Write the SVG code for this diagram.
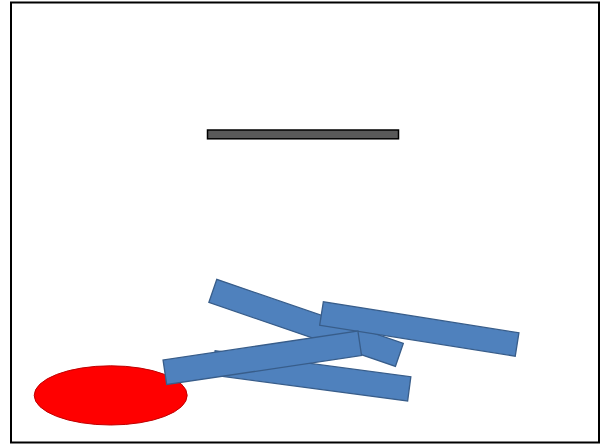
<svg xmlns="http://www.w3.org/2000/svg" width="605" height="444" viewBox="0 0 605 444">
<style>
.stick{fill:#4F81BD;stroke:#385D8A;stroke-width:1.3}
</style>
<rect x="0" y="0" width="605" height="444" fill="#ffffff"/>
<rect id="frame" x="11" y="2.5" width="588" height="440" fill="none" stroke="#000" stroke-width="2"/>
<g id="bar"><rect x="207.5" y="130" width="191" height="8.8" fill="#595959" stroke="#000" stroke-width="1.5"/></g>
<g id="ball"><ellipse cx="110.7" cy="395.4" rx="76.5" ry="29.6" fill="#FF0000" stroke="#C00000" stroke-width="1"/></g>
<g id="stick-bottom"><rect class="stick" x="-98.7" y="-12.2" width="197.4" height="24.4" transform="translate(311.4,375.9) rotate(7.57)"/></g>
<g id="stick-desc"><rect class="stick" x="-98.6" y="-12.2" width="197.2" height="24.4" transform="translate(306.1,322.9) rotate(18.93)"/></g>
<g id="stick-right"><rect class="stick" x="-99" y="-11.8" width="198" height="23.6" transform="translate(419.3,329.0) rotate(9.0)"/></g>
<g id="stick-asc"><rect class="stick" x="-98.5" y="-12.4" width="197" height="24.8" transform="translate(262.3,357.8) rotate(-8.46)"/></g>
</svg>
